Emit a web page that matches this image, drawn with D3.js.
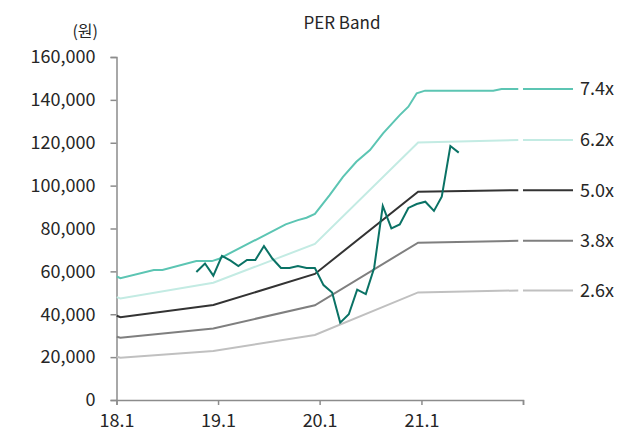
<!DOCTYPE html>
<html>
<head>
<meta charset="utf-8">
<script src="https://cdn.jsdelivr.net/npm/d3@7"></script>
<style>
  html, body { margin: 0; padding: 0; background: #fff; }
  svg { display: block; }
  text { font-family: "Noto Sans CJK KR", "Noto Sans", sans-serif; fill: #262626; }
</style>
</head>
<body>
<svg id="chart" width="620" height="432"></svg>
<script>
// ---------- data ----------
const title = "PER Band";
const unitLabel = "(원)";
const yTicks = [0, 20000, 40000, 60000, 80000, 100000, 120000, 140000, 160000];
const xTickDates = ["2018-01-01", "2019-01-01", "2020-01-01", "2021-01-01", "2022-01-01"];
const xTickLabels = ["18.1", "19.1", "20.1", "21.1", ""];

// 7.4x band (upper band, with small steps)
const band74Dates = ["2018-01-02", "2018-01-15", "2018-05-15", "2018-06-15", "2018-10-15", "2018-12-10",
  "2019-01-05", "2019-09-01", "2019-10-15", "2019-11-15", "2019-12-15", "2020-02-06", "2020-03-25",
  "2020-05-12", "2020-06-30", "2020-08-16", "2020-10-15", "2020-11-15", "2020-12-15", "2021-01-14",
  "2021-09-16", "2021-10-16", "2021-12-15"];
const band74 = [57600, 56800, 60600, 60600, 64800, 64800, 65900, 81900, 83900, 85000, 86800, 95600, 104100,
  111100, 116600, 124400, 132900, 136800, 143100, 144300, 144300, 145100, 145100];

// lower bands (piecewise straight)
const lowerBandDates = ["2018-01-02", "2018-01-15", "2018-12-15", "2019-12-15", "2020-12-20", "2021-12-15"];
const band62 = [48000, 47400, 54700, 72800, 120100, 121300];
const band50 = [39300, 38600, 44300, 58800, 97100, 97900];
const band38 = [29500, 29000, 33400, 44200, 73400, 74300];
const band26 = [20200, 19700, 22900, 30300, 50200, 51100];

const bandNames = ["7.4x", "6.2x", "5.0x", "3.8x", "2.6x"];

const priceDates = ["2018-10-15", "2018-11-15", "2018-12-15", "2019-01-15", "2019-02-15", "2019-03-15",
  "2019-04-15", "2019-05-15", "2019-06-15", "2019-07-15", "2019-08-15", "2019-09-15", "2019-10-15",
  "2019-11-15", "2019-12-15", "2020-01-15", "2020-02-15", "2020-03-15", "2020-04-15", "2020-05-15",
  "2020-06-15", "2020-07-15", "2020-08-15", "2020-09-15", "2020-10-15", "2020-11-15", "2020-12-15",
  "2021-01-15", "2021-02-15", "2021-03-15", "2021-04-15", "2021-05-15"];
const priceValues = [59700, 63700, 58000, 67200, 65000, 62500, 65300, 65300, 71800, 66000, 61600, 61600,
  62500, 61600, 61600, 53600, 50100, 36100, 40000, 51500, 49400, 61600, 90500, 80100, 81900, 89600,
  91400, 92500, 88200, 94800, 118500, 115400];

// ---------- styles ----------
const bandColors = ["#5cc5b3", "#c3ebe3", "#333333", "#7f7f7f", "#c0c0c0"];
const priceColor = "#0a7265";
const axisColor = "#8c8c8c";
const fontFam = '"Noto Sans CJK KR", "Noto Sans", sans-serif';

// ---------- chart ----------
const parse = d3.timeParse("%Y-%m-%d");
const svg = d3.select("#chart");

const x = d3.scaleTime()
  .domain([parse(xTickDates[0]), parse(xTickDates[xTickDates.length - 1])])
  .range([116.5, 523]);
const y = d3.scaleLinear().domain([0, 160000]).range([400, 57]);

// title
svg.append("text").attr("x", 342).attr("y", 29).attr("text-anchor", "middle")
  .style("font-size", "17px").text(title);
svg.append("text").attr("x", 98).attr("y", 37).attr("text-anchor", "end")
  .style("font-size", "16px").text(unitLabel);

// y axis
const yAxis = d3.axisLeft(y).tickValues(yTicks).tickSize(6).tickPadding(15)
  .tickFormat(d3.format(","));
const gy = svg.append("g").attr("transform", "translate(116.5,0)").call(yAxis);
gy.select(".domain").attr("stroke", axisColor).attr("stroke-width", 1.5);
gy.selectAll(".tick line").attr("stroke", axisColor).attr("stroke-width", 1.5);
gy.selectAll(".tick text").style("font-size", "18px").attr("fill", "#262626")
  .style("font-family", fontFam);

// x axis
const xAxis = d3.axisBottom(x).tickValues(xTickDates.map(parse)).tickSize(5).tickPadding(9)
  .tickFormat((d, i) => xTickLabels[i]);
const gx = svg.append("g").attr("transform", "translate(0,400)").call(xAxis);
gx.select(".domain").attr("stroke", axisColor).attr("stroke-width", 1.5);
gx.selectAll(".tick line").attr("stroke", axisColor).attr("stroke-width", 1.5);
gx.selectAll(".tick text").style("font-size", "18px").attr("fill", "#262626")
  .style("font-family", fontFam);

// bands
const bandSeries = [
  { dates: band74Dates, values: band74 },
  { dates: lowerBandDates, values: band62 },
  { dates: lowerBandDates, values: band50 },
  { dates: lowerBandDates, values: band38 },
  { dates: lowerBandDates, values: band26 }
];
const line = d3.line().x(d => x(d.date)).y(d => y(d.value));
bandSeries.forEach((s, i) => {
  const pts = s.values.map((v, j) => ({ date: parse(s.dates[j]), value: v }));
  svg.append("path").datum(pts).attr("d", line)
    .attr("fill", "none").attr("stroke", bandColors[i]).attr("stroke-width", 2);
  const last = s.values[s.values.length - 1];
  svg.append("line")
    .attr("x1", x(parse(xTickDates[xTickDates.length - 1]))).attr("x2", 573)
    .attr("y1", y(last)).attr("y2", y(last))
    .attr("stroke", bandColors[i]).attr("stroke-width", 2);
  svg.append("text").attr("x", 580).attr("y", y(last)).attr("dy", "0.36em")
    .style("font-size", "18px").text(bandNames[i]);
});

// price
const pricePts = priceValues.map((v, j) => ({ date: parse(priceDates[j]), value: v }));
svg.append("path").datum(pricePts).attr("d", line)
  .attr("fill", "none").attr("stroke", priceColor).attr("stroke-width", 2)
  .attr("stroke-linejoin", "miter");
</script>
</body>
</html>
